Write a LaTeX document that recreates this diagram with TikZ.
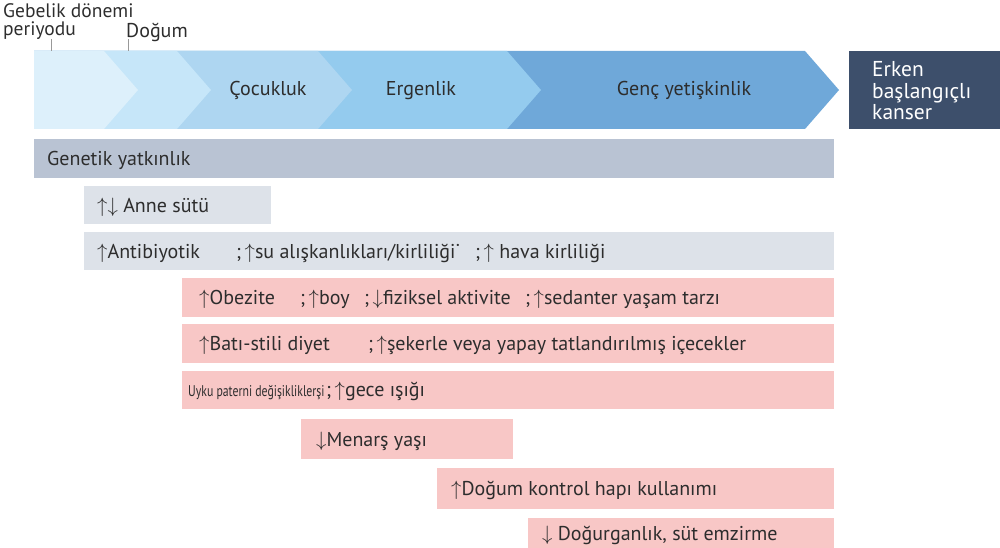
\documentclass[tikz,border=0pt]{standalone}
\usepackage{fontspec}
\setmainfont{PT Sans}
\usetikzlibrary{positioning}

\definecolor{phaseA}{HTML}{DDF0FB}
\definecolor{phaseB}{HTML}{C6E6F9}
\definecolor{phaseC}{HTML}{AED6F1}
\definecolor{phaseD}{HTML}{94CBEE}
\definecolor{phaseE}{HTML}{6FA8D9}
\definecolor{cancerblue}{HTML}{3D4F6B}
\definecolor{genegray}{HTML}{B9C3D3}
\definecolor{envgray}{HTML}{DDE2E9}
\definecolor{riskpink}{HTML}{F8C7C6}
\definecolor{inktext}{HTML}{2D2D2D}

\newcommand{\up}{$\uparrow$}
\newcommand{\dn}{$\downarrow$}

\tikzset{
    bar/.style={anchor=north west, inner sep=0pt, minimum height=#1},
    envbar/.style={bar=38pt, fill=envgray},
    riskbar/.style={bar=39pt, fill=riskpink},
    label/.style={inner sep=0pt, text=inktext, font=\fontsize{20}{20}\selectfont},
    small/.style={inner sep=0pt, text=inktext, font=\fontsize{15.5}{15.5}\selectfont},
    tick/.style={draw=gray!80, line width=0.8pt}
}

\begin{document}
\begin{tikzpicture}[x=1pt,y=-1pt]
    \useasboundingbox (0,0) rectangle (1000,548);

    % life phases, drawn from the longest to the shortest
    \foreach \r/\c in {805/phaseE,507/phaseD,318/phaseC,177/phaseB,104/phaseA} {
        \fill[\c] (34,51) -- (\r,51) -- (\r+34,90) -- (\r,129) -- (34,129) -- cycle;
    }
    \node[label, anchor=base] (cocukluk) at (268,96) {Çocukluk};
    \node[label, anchor=base] (ergenlik) at (421,96) {Ergenlik};
    \node[label, anchor=base] (genc) at (684,96) {Genç yetişkinlik};

    \node[bar=78pt, fill=cancerblue, minimum width=151pt] (kanser) at (849,51) {};
    \node[label, text=white, anchor=base west, align=left,
          font=\fontsize{21.5}{21.5}\selectfont] (kanserlbl) at (872,120)
          {Erken\\başlangıçlı\\kanser};

    % markers above the phases
    \coordinate (gebelikA) at (51,39);
    \coordinate (gebelikB) at (51,51);
    \coordinate (dogumA) at (128,39);
    \coordinate (dogumB) at (128,51);
    \draw[tick] (gebelikA) -- (gebelikB);
    \draw[tick] (dogumA) -- (dogumB);
    \node[label, anchor=base west, align=left,
          font=\fontsize{19.5}{18.5}\selectfont] (gebelik) at (3,36) {Gebelik dönemi\\periyodu};
    \node[label, anchor=base west] (dogum) at (126,38) {Doğum};

    % factors
    \node[bar=39pt, fill=genegray, minimum width=800pt] (genetik) at (34,139) {};
    \node[label, anchor=base west] (genetiklbl) at ([xshift=13pt,yshift=-7pt]genetik.west) {Genetik yatkınlık};

    \node[envbar, minimum width=187pt] (anne) at (84,186) {};
    \node[label, anchor=base west] (annelbl) at ([xshift=13pt,yshift=-7pt]anne.west) {\up\dn\ Anne sütü};

    \node[envbar, minimum width=750pt] (anti) at (84,232) {};
    \node[label, anchor=base west] (antiA) at ([xshift=13pt,yshift=-7pt]anti.west) {\up Antibiyotik};
    \node[label, anchor=base west] (antiB) at ([xshift=152pt,yshift=-7pt]anti.west) {;\,\up su alışkanlıkları/kirliliği˙};
    \node[label, anchor=base west] (antiC) at ([xshift=391pt,yshift=-7pt]anti.west) {;\,\up\ hava kirliliği};

    \node[riskbar, minimum width=652pt] (obezite) at (182,278) {};
    \node[label, anchor=base west] (obeziteA) at ([xshift=17pt,yshift=-7pt]obezite.west) {\up Obezite};
    \node[label, anchor=base west] (obeziteB) at ([xshift=118pt,yshift=-7pt]obezite.west) {;\,\up boy};
    \node[label, anchor=base west] (obeziteC) at ([xshift=182pt,yshift=-7pt]obezite.west) {;\,\dn fiziksel aktivite};
    \node[label, anchor=base west] (obeziteD) at ([xshift=343pt,yshift=-7pt]obezite.west) {;\,\up sedanter yaşam tarzı};

    \node[riskbar, minimum width=652pt] (diyet) at (182,324) {};
    \node[label, anchor=base west] (diyetA) at ([xshift=17pt,yshift=-7pt]diyet.west) {\up Batı-stili diyet};
    \node[label, anchor=base west] (diyetB) at ([xshift=186pt,yshift=-7pt]diyet.west) {;\,\up şekerle veya yapay tatlandırılmış içecekler};

    \node[riskbar, minimum width=652pt, minimum height=38pt] (uyku) at (182,371) {};
    \node[small, anchor=base west] (uykuA) at ([xshift=6pt,yshift=-6pt]uyku.west)
          {\scalebox{0.76}[1]{Uyku paterni değişikliklerşi}};
    \node[label, anchor=base west] (uykuB) at ([xshift=144pt,yshift=-6pt]uyku.west) {;\,\up gece ışığı};

    \node[riskbar, minimum width=212pt, minimum height=40pt] (menars) at (301,419) {};
    \node[label, anchor=base west] (menarslbl) at ([xshift=15pt,yshift=-7pt]menars.west) {\dn Menarş yaşı};

    \node[riskbar, minimum width=397pt, minimum height=41pt] (hap) at (437,468) {};
    \node[label, anchor=base west] (haplbl) at ([xshift=14pt,yshift=-7pt]hap.west) {\up Doğum kontrol hapı kullanımı};

    \node[riskbar, minimum width=306pt, minimum height=30pt] (dogurganlik) at (528,518) {};
    \node[label, anchor=base west] (dogurganliklbl) at ([xshift=14pt,yshift=-7pt]dogurganlik.west) {\dn\ Doğurganlık, süt emzirme};
\end{tikzpicture}
\end{document}
